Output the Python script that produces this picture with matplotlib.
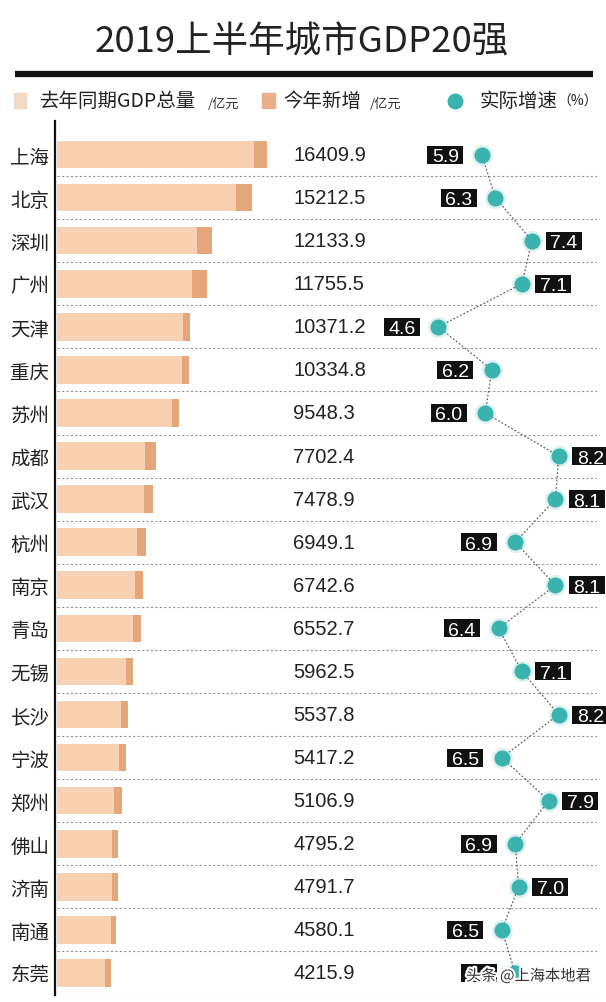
import matplotlib.pyplot as plt
import matplotlib.patheffects as pe
from matplotlib.patches import Rectangle
from matplotlib.lines import Line2D
from matplotlib.transforms import ScaledTranslation
import numpy as np

plt.rcParams['font.family'] = ['Noto Sans CJK SC', 'DejaVu Sans']

cities = ['上海', '北京', '深圳', '广州', '天津', '重庆', '苏州', '成都', '武汉', '杭州',
          '南京', '青岛', '无锡', '长沙', '宁波', '郑州', '佛山', '济南', '南通', '东莞']
gdp = [16409.9, 15212.5, 12133.9, 11755.5, 10371.2, 10334.8, 9548.3, 7702.4, 7478.9, 6949.1,
       6742.6, 6552.7, 5962.5, 5537.8, 5417.2, 5106.9, 4795.2, 4791.7, 4580.1, 4215.9]
# 今年新增
increase = [1020, 1250, 1170, 1170, 550, 550, 550, 860, 700, 700,
            625, 625, 550, 550, 550, 625, 470, 470, 390, 470]
growth = [5.9, 6.3, 7.4, 7.1, 4.6, 6.2, 6.0, 8.2, 8.1, 6.9,
          8.1, 6.4, 7.1, 8.2, 6.5, 7.9, 6.9, 7.0, 6.5, 6.9]

light = '#F8D1B3'
dark = '#E5A67C'
teal = '#3AB3AF'
W, H = 606, 1003

last_year = [g - d for g, d in zip(gdp, increase)]
y = np.arange(len(cities))

fig = plt.figure(figsize=(W / 100, H / 100), dpi=100)
fig.patch.set_facecolor('white')
ax = fig.add_axes([55 / W, 1 - 995.5 / H, 542 / W, 873.5 / H])

ax.barh(y, last_year, height=0.64, color=light, zorder=2)
ax.barh(y, increase, left=last_year, height=0.64, color=dark, zorder=2)

for i, v in enumerate(gdp):
    ax.text(18442, i, f'{v:.1f}', va='center', ha='left', fontsize=14.5,
            family='Liberation Sans', color='#222')

for i in range(len(cities)):
    ax.axhline(i + 0.5, xmin=2 / 542, xmax=1, color='#8e99a4', lw=0.8,
               ls=(0, (2, 2)), zorder=1)

ax.set_xlim(-156.3, 42197)
ax.set_ylim(19.5, -0.778)
ax.set_yticks(y)
ax.set_yticklabels(cities, fontsize=14, color='#222')
ax.tick_params(axis='y', length=0, pad=4)
ax.set_xticks([])
for s in ['top', 'right', 'bottom']:
    ax.spines[s].set_visible(False)
ax.spines['left'].set_linewidth(1.6)
ax.spines['left'].set_color('#111')

# growth rate on its own x scale
ax2 = ax.twiny()
ax2.set_xlim(-6.860, 9.343)
ax2.set_xticks([])
for s in ax2.spines.values():
    s.set_visible(False)

ax2.plot(growth, y, ls=(0, (1.5, 1.5)), color='#666', lw=0.9, zorder=3)
ax2.plot(growth, y, 'o', ms=15, color=teal, alpha=0.18, mec='none', zorder=3)
ax2.plot(growth, y, 'o', ms=11.5, color=teal, mec='none', zorder=4)

box = [(-1, -0.5), (1, -0.5), (1, 0.5), (-1, 0.5), (-1, -0.5)]
for i, g in enumerate(growth):
    dx = 22.7 if g >= 7 else -26.3
    tr = ax2.transData + ScaledTranslation(dx / 72, 0, fig.dpi_scale_trans)
    ax2.plot(g, i, marker=box, ms=26.6, color='#111', mew=0, transform=tr,
             clip_on=False, zorder=5)
    ax2.text(g, i, f'{g:.1f}', transform=tr, ha='center', va='center_baseline',
             fontsize=14, family='Liberation Sans', color='white', zorder=6)

# title and rule
fig.text(95 / W, 1 - 42 / H, '2019上半年城市GDP20强', fontsize=26.3, va='center',
         ha='left', color='#222')
fig.add_artist(Line2D([15 / W, 593 / W], [1 - 74.5 / H] * 2, lw=4.5, color='#111',
                      solid_capstyle='butt', transform=fig.transFigure))

# legend
ly = 1 - 102 / H
fig.add_artist(Rectangle((14 / W, 1 - 109 / H), 12 / W, 15 / H, color='#F3DAC6',
                         transform=fig.transFigure))
fig.text(40 / W, ly, '去年同期GDP总量', fontsize=14, va='center', color='#222')
fig.text(208 / W, ly - 2 / H, '/亿元', fontsize=9.5, va='center', color='#333')
fig.add_artist(Rectangle((262 / W, 1 - 109 / H), 13 / W, 15 / H, color='#E9AF88',
                         transform=fig.transFigure))
fig.text(283 / W, ly, '今年新增', fontsize=14, va='center', color='#222')
fig.text(370 / W, ly - 2 / H, '/亿元', fontsize=9.5, va='center', color='#333')
fig.add_artist(Line2D([455 / W], [ly], marker='o', ms=11.5, color=teal, mec='none',
                      transform=fig.transFigure))
fig.text(480 / W, ly, '实际增速', fontsize=14, va='center', color='#222')
fig.text(557 / W, ly, '（%）', fontsize=10, va='center', color='#222')

fig.text(466 / W, 1 - 977 / H, '头条 @上海本地君', fontsize=11, va='center', color='#333',
         path_effects=[pe.withStroke(linewidth=3, foreground='white')], zorder=10)

fig.savefig('out.png', dpi=100)
